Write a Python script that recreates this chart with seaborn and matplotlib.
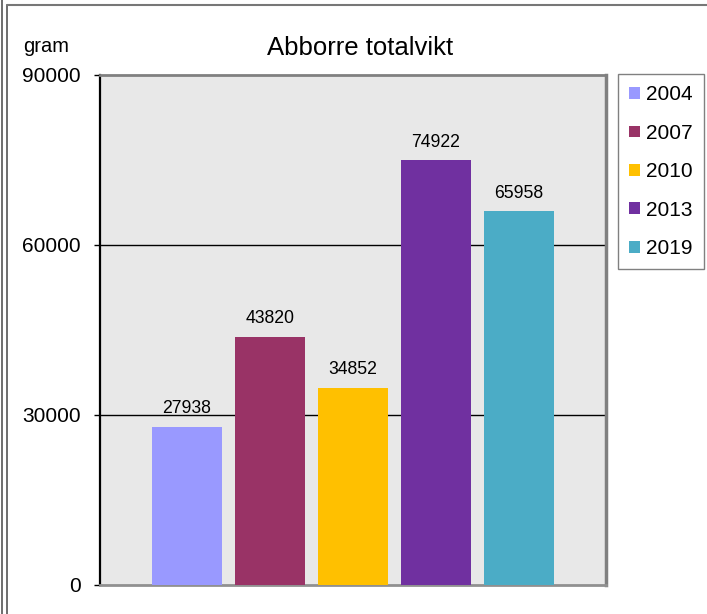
import matplotlib
matplotlib.use("Agg")
import matplotlib.pyplot as plt
import matplotlib.patches as mpatches
from matplotlib.lines import Line2D
import seaborn as sns
import pandas as pd

years = ["2004", "2007", "2010", "2013", "2019"]
values = [27938, 43820, 34852, 74922, 65958]
colors = ["#9999FF", "#993366", "#FFC000", "#7030A0", "#4BACC6"]
yticks = [0, 30000, 60000, 90000]
title = "Abborre totalvikt"
ylabel = "gram"

sns.set_style("white")
plt.rcParams["font.family"] = ["Liberation Sans", "DejaVu Sans"]
plt.rcParams["text.color"] = "black"
plt.rcParams["ytick.color"] = "black"
plt.rcParams["ytick.labelcolor"] = "black"

W, H = 707, 614
fig = plt.figure(figsize=(W / 100, H / 100), dpi=100)

L, T, R, B = 100, 75, 606, 585
ax = fig.add_axes([L / W, 1 - B / H, (R - L) / W, (B - T) / H])
ax.set_facecolor("#E8E8E8")

df = pd.DataFrame({"year": years, "value": values})
sns.barplot(data=df, x="year", y="value", hue="year", palette=colors,
            width=0.843, saturation=1, legend=False, ax=ax, zorder=3,
            linewidth=0, edgecolor="none")

ax.set_xlim(-1.048, 5.048)
ax.set_ylim(0, 90000)
ax.set_yticks(yticks)
ax.set_yticklabels([str(v) for v in yticks], fontsize=15)
ax.set_xticks([])
ax.set_xlabel("")
ax.set_ylabel("")
ax.tick_params(axis="y", direction="out", length=4, width=1, color="black",
               pad=10, left=True, labelcolor="black")
for y in yticks[1:-1]:
    ax.axhline(y, color="black", linewidth=1, zorder=2)

for c in ax.containers:
    ax.bar_label(c, fmt="%d", padding=7, fontsize=12.7, color="black")

ax.spines["left"].set_color("black")
ax.spines["left"].set_linewidth(1.6)
ax.spines["top"].set_color("#808080")
ax.spines["top"].set_linewidth(2)
ax.spines["right"].set_color("#808080")
ax.spines["right"].set_linewidth(2.5)
ax.spines["bottom"].set_color("#909090")
ax.spines["bottom"].set_linewidth(2)

fig.text(360 / W, 1 - 48 / H, title, fontsize=18.5, ha="center", va="center",
         color="black")
fig.text(23 / W, 1 - 46 / H, ylabel, fontsize=14.5, ha="left", va="center",
         color="black")

handles = [mpatches.Patch(facecolor=c, edgecolor="none", label=y)
           for c, y in zip(colors, years)]
leg = fig.legend(handles=handles, loc="upper left",
                 bbox_to_anchor=(618 / W, 1 - 74 / H), fontsize=15,
                 frameon=True, fancybox=False, handlelength=0.5,
                 handleheight=0.5, handletextpad=0.3, labelspacing=0.93,
                 borderpad=0.55, borderaxespad=0)
leg.get_frame().set_edgecolor("#606060")
leg.get_frame().set_linewidth(1)
for t in leg.get_texts():
    t.set_color("black")

# outer borders
fig.add_artist(Line2D([1.5 / W, 1.5 / W], [0, 1], color="#555555", linewidth=1.2))
fig.add_artist(Line2D([7 / W, 7 / W], [0, 1 - 5 / H], color="#555555", linewidth=1.2))
fig.add_artist(Line2D([7 / W, 1], [1 - 5 / H, 1 - 5 / H], color="#777777", linewidth=1.5))

fig.savefig("out.png", dpi=100)
